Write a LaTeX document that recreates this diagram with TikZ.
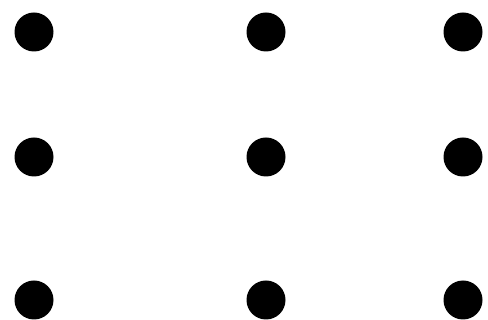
\documentclass[tikz,border=0pt]{standalone}
\begin{document}
\begin{tikzpicture}[x=1pt,y=-1pt,
  dot/.style={circle,fill=black,inner sep=0pt,minimum size=39pt}]
\useasboundingbox (0,0) rectangle (488,320);
\node[dot] (a1) at (34,32) {};
\node[dot] (a2) at (266,32) {};
\node[dot] (a3) at (463,32) {};
\node[dot] (b1) at (34,157) {};
\node[dot] (b2) at (266,157) {};
\node[dot] (b3) at (463,157) {};
\node[dot] (c1) at (34,300) {};
\node[dot] (c2) at (266,300) {};
\node[dot] (c3) at (463,300) {};
\end{tikzpicture}
\end{document}
